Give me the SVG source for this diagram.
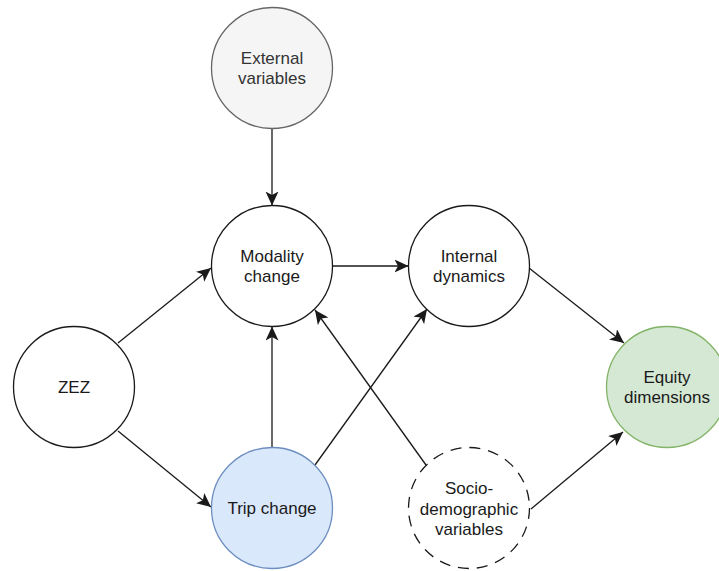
<svg xmlns="http://www.w3.org/2000/svg" width="719" height="571" viewBox="0 0 719 571">
<style>
.n{stroke:#1a1a1a;stroke-width:1.3;fill:#ffffff}
.t{font-family:"Liberation Sans",Arial,sans-serif;font-size:17px;fill:#1a1a1a;text-anchor:middle}
.e{stroke:#1a1a1a;stroke-width:1.3;fill:none;marker-end:url(#arr)}
</style>
<defs>
<marker id="arr" markerUnits="userSpaceOnUse" markerWidth="16" markerHeight="14" refX="14" refY="6.5" orient="auto">
<path d="M0,0 L14,6.5 L0,13 L3.5,6.5 z" fill="#1a1a1a"/>
</marker>
</defs>
<rect width="719" height="571" fill="#ffffff"/>
<g id="connectors">
<line class="e" x1="272" y1="128.5" x2="272" y2="205.5"/>
<line class="e" x1="332.5" y1="266" x2="408.5" y2="266"/>
<line class="e" x1="118" y1="343" x2="211" y2="268"/>
<line class="e" x1="118" y1="431" x2="211" y2="507"/>
<line class="e" x1="272" y1="447.5" x2="272" y2="326.5"/>
<line class="e" x1="315" y1="465" x2="427" y2="309"/>
<line class="e" x1="426" y1="465" x2="315" y2="310"/>
<line class="e" x1="529" y1="268" x2="624" y2="343"/>
<line class="e" x1="531" y1="509" x2="623" y2="432"/>
</g>
<g id="external">
<circle cx="272" cy="68" r="60.5" fill="#f5f5f5" stroke="#666666" stroke-width="1.3"/>
<text class="t" x="272" y="64" style="fill:#333333">External</text>
<text class="t" x="272" y="84" style="fill:#333333">variables</text>
</g>
<g id="modality">
<circle class="n" cx="272" cy="266" r="60.5"/>
<text class="t" x="272" y="262">Modality</text>
<text class="t" x="272" y="282">change</text>
</g>
<g id="internal">
<circle class="n" cx="469" cy="266" r="60.5"/>
<text class="t" x="469" y="262">Internal</text>
<text class="t" x="469" y="282">dynamics</text>
</g>
<g id="zez">
<circle class="n" cx="74" cy="387" r="60.5"/>
<text class="t" x="74" y="393">ZEZ</text>
</g>
<g id="trip">
<circle cx="272" cy="508" r="60.5" fill="#dae8fc" stroke="#6c8ebf" stroke-width="1.3"/>
<text class="t" x="272" y="514">Trip change</text>
</g>
<g id="socio">
<circle class="n" cx="469" cy="508" r="60.5" stroke-dasharray="11 8"/>
<text class="t" x="469" y="494">Socio-</text>
<text class="t" x="469" y="514.5">demographic</text>
<text class="t" x="469" y="535">variables</text>
</g>
<g id="equity">
<circle cx="667" cy="387" r="60.5" fill="#d5e8d4" stroke="#82b366" stroke-width="1.3"/>
<text class="t" x="667" y="383">Equity</text>
<text class="t" x="667" y="403">dimensions</text>
</g>
</svg>
